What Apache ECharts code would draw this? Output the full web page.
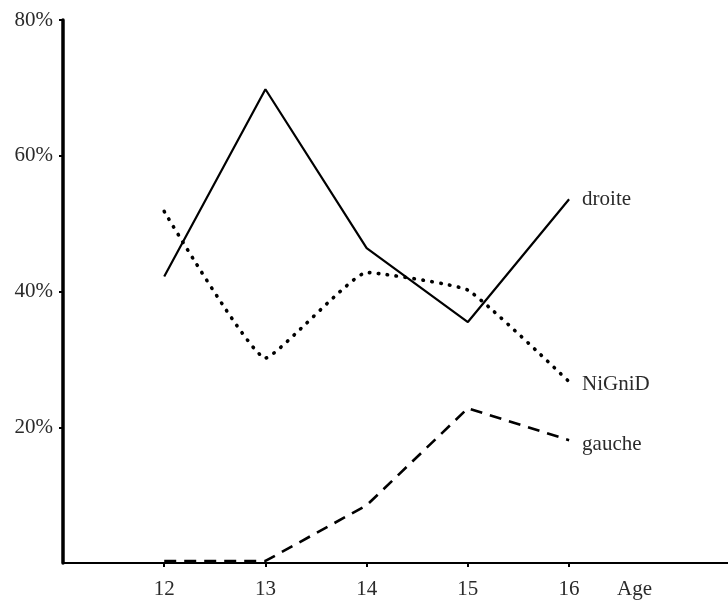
<!DOCTYPE html>
<html>
<head>
<meta charset="utf-8">
<script src="https://cdn.jsdelivr.net/npm/echarts@6/dist/echarts.min.js"></script>
<style>
html,body{margin:0;padding:0;background:#fff;}
#c{width:728px;height:604px;}
</style>
</head>
<body>
<div id="c"></div>
<script>
var ages = [12, 13, 14, 15, 16];
var yTicks = [20, 40, 60, 80];
var droite = [42.2, 69.8, 46.4, 35.5, 53.6];
var nignid = [51.8, 30.2, 42.8, 40.2, 26.7];
var gauche = [0.3, 0.3, 8.5, 22.8, 18.1];
var names = ['droite', 'NiGniD', 'gauche'];
var xTitle = 'Age';

var FONT = '"Liberation Serif", "DejaVu Serif", serif';
var TXT = '#2a2a2a';

function pairs(vals) {
  return ages.map(function (a, i) { return [a, vals[i]]; });
}

function endLbl(dy) {
  return {
    show: true,
    formatter: '{a}',
    distance: 13,
    offset: [0, dy],
    color: TXT,
    fontFamily: FONT,
    fontSize: 21
  };
}

var chart = echarts.init(document.getElementById('c'), null, {renderer: 'canvas'});
chart.setOption({
  animation: false,
  backgroundColor: '#fff',
  grid: {left: 63, right: 0, top: 20, bottom: 41, containLabel: false},
  xAxis: {
    type: 'value',
    min: 11,
    max: 17.57,
    splitLine: {show: false},
    axisLine: {show: true, onZero: false, lineStyle: {color: '#000', width: 2}},
    axisTick: {show: true, inside: false, length: 4, customValues: ages, lineStyle: {color: '#000', width: 2}},
    axisLabel: {
      customValues: ages,
      margin: 16,
      color: TXT,
      fontFamily: FONT,
      fontSize: 21
    }
  },
  yAxis: {
    type: 'value',
    min: 0,
    max: 80,
    interval: 20,
    splitLine: {show: false},
    axisLine: {show: true, lineStyle: {color: '#000', width: 3.5}},
    axisTick: {show: true, length: 4, customValues: yTicks, lineStyle: {color: '#000', width: 2}},
    axisLabel: {
      customValues: yTicks,
      margin: 10,
      formatter: function (v) { return v + '%'; },
      color: TXT,
      fontFamily: FONT,
      fontSize: 21
    }
  },
  graphic: [{
    type: 'text',
    left: 617,
    top: 579,
    style: {text: xTitle, fill: TXT, font: '21px ' + FONT}
  }],
  series: [
    {
      name: names[0],
      type: 'line',
      data: pairs(droite),
      symbol: 'none',
      lineStyle: {color: '#000', width: 2.2, type: 'solid'},
      endLabel: endLbl(0)
    },
    {
      name: names[1],
      type: 'line',
      data: pairs(nignid),
      symbol: 'none',
      smooth: 0.12,
      lineStyle: {color: '#000', width: 3.6, type: [0.5, 8.5], cap: 'round'},
      endLabel: endLbl(3)
    },
    {
      name: names[2],
      type: 'line',
      data: pairs(gauche),
      symbol: 'none',
      lineStyle: {color: '#000', width: 2.6, type: [12, 8]},
      endLabel: endLbl(4)
    }
  ]
});
</script>
</body>
</html>
